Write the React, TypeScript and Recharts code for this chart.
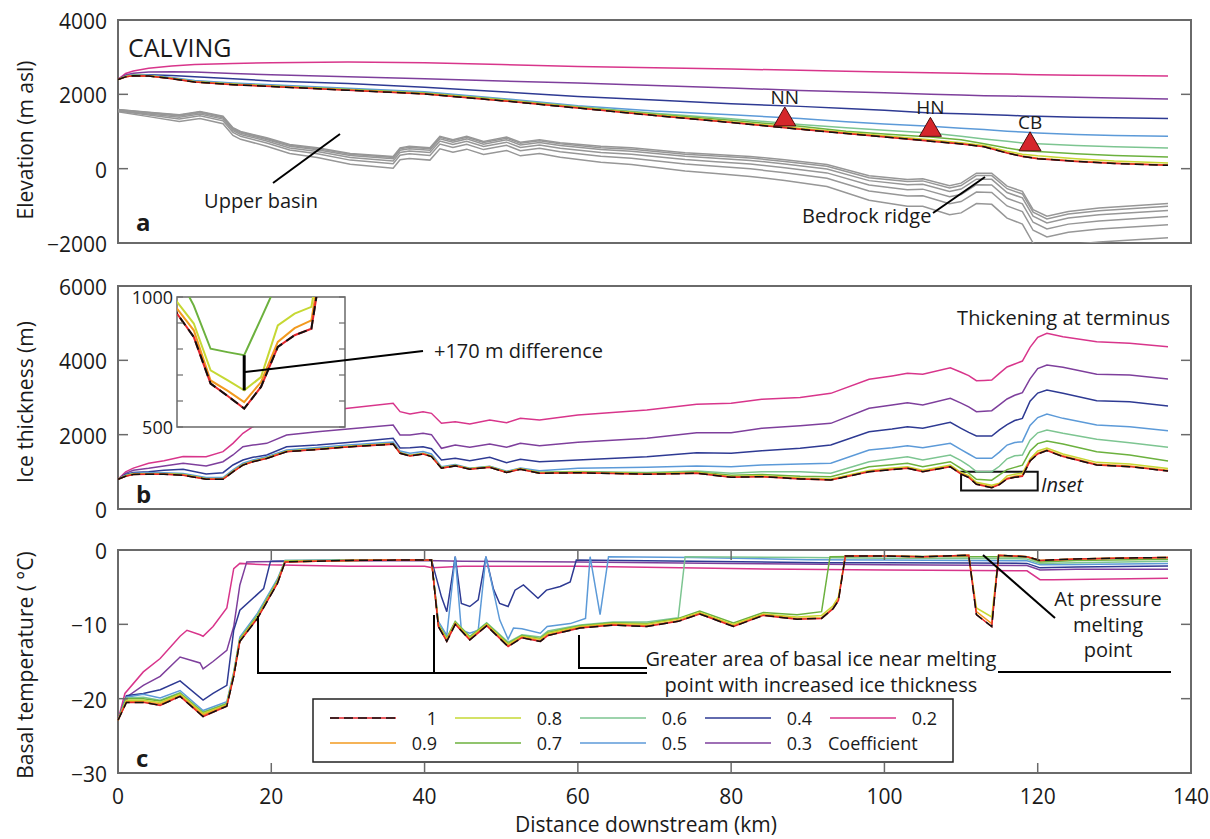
import React from 'react';
import {
  ComposedChart,
  Line,
  Scatter,
  XAxis,
  YAxis,
  ReferenceArea,
  ReferenceLine,
} from 'recharts';

const FONT = '"Open Sans", "DejaVu Sans", sans-serif';
const INK = '#1a1a1a';
const FRAME = '#6a6a6a';
const RED = '#e0242b';

// every panel shares the same local plot box
const W = 1210;
const PANEL_H = 260;
const PLOT = { left: 118, right: 1191, top: 20, bottom: 243 };
const Y_AXIS_W = 60;
const MARGIN = { top: 20, right: W - PLOT.right, left: PLOT.left - Y_AXIS_W, bottom: 17 };

const KM_TICKS = [0, 20, 40, 60, 80, 100, 120, 140];
const ELEV_TICKS = [-2000, 0, 2000, 4000];
const THICK_TICKS = [0, 2000, 4000, 6000];
const TEMP_TICKS = [-30, -20, -10, 0];
const INSET_KM_TICKS = [110, 112, 114, 116, 118, 120];
const INSET_THICK_TICKS = [500, 600, 700, 800, 900, 1000];

// coefficient runs, weakest first so that coefficient 1 ends on top
const COEFFS = ['0.2', '0.3', '0.4', '0.5', '0.6', '0.7', '0.8', '0.9', '1'];
const COLORS: Record<string, string> = {
  '0.2': '#d8358b',
  '0.3': '#7e3f9c',
  '0.4': '#2e3a93',
  '0.5': '#5c9ad8',
  '0.6': '#7dc591',
  '0.7': '#6cb13e',
  '0.8': '#c6d834',
  '0.9': '#f29a1f',
  '1': '#111111',
};

// ---- panel a: ice surface elevation (m asl)
const SURF_X = [0, 1, 2, 4, 7, 10, 15, 20, 30, 40, 50, 60, 70, 80, 89, 95, 100, 106, 110, 113, 116, 118, 120, 125, 130, 137];
const SURF_02 = [2400, 2560, 2630, 2700, 2760, 2800, 2830, 2850, 2870, 2850, 2800, 2750, 2715, 2682, 2645, 2620, 2600, 2580, 2565, 2555, 2545, 2535, 2530, 2515, 2505, 2494];
const SURF_03 = [2400, 2520, 2570, 2600, 2610, 2600, 2560, 2530, 2470, 2420, 2360, 2305, 2240, 2170, 2106, 2070, 2040, 2000, 1980, 1965, 1955, 1950, 1945, 1920, 1900, 1875];
const SURF_04 = [2400, 2480, 2520, 2530, 2510, 2470, 2420, 2360, 2290, 2190, 2070, 1945, 1850, 1748, 1676, 1620, 1570, 1500, 1480, 1460, 1440, 1420, 1407, 1385, 1370, 1353];
const SURF_05 = [2400, 2485, 2525, 2520, 2455, 2370, 2305, 2260, 2165, 2070, 1890, 1695, 1550, 1453, 1350, 1260, 1200, 1138, 1090, 1055, 1010, 985, 960, 920, 895, 869];
const SURF_06 = [2400, 2480, 2514, 2506, 2436, 2348, 2280, 2232, 2135, 2040, 1865, 1670, 1490, 1340, 1190, 1100, 1035, 960, 870, 800, 735, 690, 672, 620, 590, 557];
const SURF_07 = [2400, 2478, 2510, 2502, 2432, 2342, 2274, 2225, 2128, 2030, 1852, 1655, 1465, 1300, 1138, 1010, 935, 853, 780, 672, 557, 492, 465, 400, 355, 315];
const SURF_08 = [2400, 2476, 2507, 2498, 2428, 2338, 2270, 2220, 2122, 2025, 1845, 1645, 1450, 1265, 1090, 975, 885, 775, 700, 625, 470, 390, 345, 265, 205, 153];
const SURF_09 = [2400, 2473, 2503, 2494, 2424, 2334, 2265, 2215, 2116, 2016, 1836, 1637, 1438, 1248, 1070, 955, 865, 750, 675, 600, 432, 342, 282, 207, 150, 100];
const SURF_10 = [2400, 2470, 2500, 2490, 2420, 2330, 2260, 2210, 2110, 2010, 1830, 1630, 1430, 1240, 1060, 945, 855, 740, 665, 590, 420, 330, 270, 195, 140, 90];

// bed profiles under the flowline (m asl)
const BED_X = [0, 4, 8, 10.7, 13.7, 15, 16, 19.4, 22.4, 26, 30.3, 35.9, 36.8, 38, 40.7, 42, 43.7, 45.5, 47.7, 50.7, 52.5, 55, 57.7, 63, 67, 74, 78, 82.5, 87, 92.5, 98, 103, 105, 108.5, 110, 112, 114, 116, 118, 119.4, 121.2, 124, 128, 137];
const BED_1 = [1590, 1520, 1450, 1540, 1410, 1100, 1000, 830, 650, 560, 410, 330, 560, 600, 560, 870, 780, 870, 730, 850, 710, 780, 700, 600, 560, 430, 380, 330, 240, 110, -190, -290, -270, -460, -390, -120, -120, -470, -610, -1100, -1280, -1150, -1060, -940];
const BED_2 = [1585, 1510, 1436, 1525, 1394, 1084, 983, 812, 631, 539, 387, 304, 534, 574, 534, 843, 753, 842, 702, 821, 681, 750, 669, 566, 524, 391, 339, 287, 195, 63, -243, -348, -329, -522, -454, -186, -187, -539, -680, -1172, -1352, -1222, -1133, -1014];
const BED_3 = [1578, 1496, 1414, 1502, 1370, 1059, 958, 785, 602, 508, 352, 266, 496, 535, 494, 803, 712, 801, 660, 778, 637, 705, 622, 514, 470, 332, 278, 222, 128, -8, -322, -434, -418, -616, -550, -284, -288, -642, -786, -1280, -1460, -1330, -1242, -1124];
const BED_4 = [1567, 1474, 1382, 1468, 1334, 1022, 920, 745, 559, 461, 300, 208, 438, 477, 435, 743, 651, 739, 597, 713, 571, 638, 552, 437, 389, 244, 186, 125, 27, -114, -441, -564, -551, -756, -694, -432, -439, -797, -944, -1442, -1622, -1492, -1406, -1290];
const BED_5 = [1553, 1446, 1338, 1422, 1286, 973, 870, 690, 501, 399, 230, 132, 362, 398, 355, 662, 569, 656, 513, 627, 484, 548, 458, 333, 281, 126, 64, -5, -107, -256, -599, -736, -729, -944, -886, -628, -641, -1003, -1156, -1658, -1838, -1708, -1624, -1510];
const BED_6 = [1530, 1400, 1270, 1350, 1210, 895, 790, 605, 410, 300, 120, 10, 240, 275, 230, 535, 440, 525, 380, 490, 345, 405, 310, 170, 110, -60, -130, -210, -320, -480, -850, -1010, -1010, -1240, -1190, -940, -960, -1330, -1490, -2000, -2180, -2050, -1970, -1860];

const STATION_NAMES = ['NN', 'HN', 'CB'];
const STATION_KM = [87, 106, 119];
const STATION_ELEV = [1150, 870, 480];

// ---- panel b: ice thickness (m)
const THICK_X = [0, 1, 2, 4, 6, 8.5, 11.5, 13.7, 15, 16.3, 17.6, 19.4, 22, 26, 30, 35.9, 36.8, 38.1, 39.8, 40.9, 42.2, 44, 45.9, 48.5, 50.7, 52.5, 55, 60, 69, 75.5, 80, 84, 89, 93, 98, 101, 103, 105, 108.6, 110, 111, 112, 113, 114, 115, 116, 117, 118, 119, 120, 121.2, 123.3, 127.7, 132, 137];
const THICK_02 = [800, 1000, 1100, 1230, 1300, 1410, 1407, 1542, 1767, 2036, 2214, 2350, 2480, 2600, 2709, 2843, 2618, 2556, 2618, 2574, 2305, 2349, 2287, 2394, 2322, 2439, 2394, 2529, 2663, 2816, 2843, 2951, 3000, 3112, 3489, 3580, 3650, 3623, 3801, 3680, 3590, 3451, 3460, 3470, 3650, 3820, 3900, 3981, 4350, 4620, 4726, 4635, 4500, 4457, 4366];
const THICK_03 = [800, 960, 1040, 1094, 1160, 1229, 1157, 1273, 1453, 1676, 1720, 1767, 1991, 2080, 2150, 2260, 1991, 1991, 2036, 2000, 1633, 1722, 1660, 1748, 1660, 1767, 1703, 1794, 1902, 2053, 2053, 2170, 2240, 2305, 2709, 2800, 2860, 2798, 2978, 2850, 2750, 2618, 2630, 2645, 2800, 2960, 3060, 3130, 3500, 3780, 3874, 3812, 3623, 3605, 3497];
const THICK_04 = [800, 930, 985, 1004, 1040, 1068, 941, 977, 1184, 1318, 1390, 1453, 1676, 1720, 1790, 1902, 1640, 1650, 1676, 1620, 1318, 1363, 1300, 1390, 1246, 1340, 1273, 1318, 1407, 1515, 1498, 1569, 1633, 1722, 2080, 2150, 2214, 2170, 2332, 2170, 2060, 1964, 1964, 1964, 2130, 2270, 2380, 2439, 2900, 3120, 3201, 3112, 2913, 2887, 2771];
const THICK_05 = [800, 910, 965, 975, 978, 955, 845, 848, 1050, 1230, 1320, 1410, 1590, 1655, 1725, 1800, 1560, 1498, 1545, 1480, 1138, 1200, 1095, 1150, 1015, 1100, 1030, 1094, 1121, 1157, 1140, 1184, 1210, 1229, 1587, 1650, 1703, 1650, 1767, 1600, 1480, 1363, 1363, 1363, 1530, 1720, 1790, 1811, 2250, 2460, 2556, 2439, 2260, 2214, 2107];
const THICK_06 = [800, 900, 950, 955, 955, 930, 820, 820, 1020, 1200, 1290, 1380, 1560, 1620, 1690, 1765, 1520, 1445, 1500, 1430, 1115, 1180, 1090, 1140, 1000, 1090, 990, 1010, 980, 1020, 960, 1000, 1000, 960, 1273, 1350, 1407, 1318, 1453, 1300, 1170, 1004, 1004, 1004, 1150, 1350, 1430, 1453, 1850, 2050, 2125, 2036, 1875, 1784, 1660];
const THICK_07 = [800, 895, 945, 950, 950, 925, 815, 815, 1015, 1195, 1285, 1375, 1555, 1615, 1685, 1760, 1515, 1440, 1495, 1425, 1110, 1175, 1085, 1135, 995, 1085, 980, 998, 962, 995, 910, 930, 880, 869, 1138, 1190, 1229, 1138, 1273, 1090, 967, 801, 788, 776, 917, 1060, 1120, 1180, 1560, 1760, 1830, 1748, 1542, 1453, 1291];
const THICK_08 = [800, 890, 940, 945, 945, 920, 810, 810, 1010, 1190, 1280, 1370, 1550, 1610, 1680, 1755, 1510, 1435, 1490, 1420, 1105, 1170, 1080, 1130, 990, 1080, 972, 988, 950, 980, 875, 892, 835, 808, 1035, 1100, 1135, 1045, 1180, 981, 898, 718, 680, 641, 692, 891, 936, 962, 1350, 1560, 1640, 1480, 1255, 1210, 1090];
const THICK_09 = [800, 885, 935, 940, 940, 915, 805, 805, 1005, 1185, 1275, 1365, 1545, 1605, 1675, 1750, 1505, 1430, 1485, 1415, 1100, 1165, 1075, 1125, 985, 1075, 965, 980, 940, 968, 862, 878, 820, 790, 1012, 1072, 1108, 1018, 1150, 955, 872, 679, 640, 596, 673, 827, 880, 910, 1310, 1500, 1590, 1430, 1205, 1160, 1040];
const THICK_10 = [800, 880, 930, 935, 935, 910, 800, 800, 1000, 1180, 1270, 1360, 1540, 1600, 1670, 1745, 1500, 1425, 1480, 1410, 1095, 1160, 1070, 1120, 980, 1070, 960, 975, 935, 960, 855, 870, 810, 780, 1000, 1060, 1095, 1005, 1135, 936, 846, 667, 620, 571, 654, 808, 853, 878, 1290, 1480, 1570, 1410, 1185, 1140, 1020];

// ---- panel c: basal temperature, [km, °C]
const TEMP_02 = [[0, -22.9], [0.9, -19.3], [3.3, -16.4], [5.5, -14.6], [8.1, -11.6], [9, -10.8], [10.7, -11.4], [11.1, -11.6], [12.4, -10.3], [14.2, -7.8], [15.1, -2.5], [15.9, -1.8], [19.4, -2.0], [30, -2.2], [40, -2.2], [41, -2.4], [45, -2.2], [60, -2.2], [80, -2.5], [100, -2.7], [118.6, -2.8], [120.3, -4.0], [122, -4.0], [137, -3.8]];
const TEMP_03 = [[0, -22.9], [1.1, -19.8], [3.3, -18.2], [5.5, -17.0], [8.1, -14.4], [10.7, -15.2], [11.1, -16.0], [12.4, -15.0], [14.2, -13.5], [15.1, -10.3], [15.9, -4.7], [16.8, -1.6], [25, -1.5], [40, -1.4], [45, -1.5], [60, -1.6], [80, -1.8], [100, -2.0], [118.6, -2.1], [120.3, -2.7], [125, -2.6], [137, -2.6]];
const TEMP_04 = [[0, -22.9], [1.1, -19.6], [3.3, -19.3], [5.5, -18.8], [8.1, -17.6], [11.1, -20.2], [12.4, -19.3], [14.2, -18.2], [15.1, -10.8], [15.9, -8.1], [19, -5.2], [19.9, -1.5], [30, -1.35], [40.9, -1.3], [42.2, -6.3], [42.9, -8.3], [44, -0.9], [44.8, -7.2], [45.9, -7.6], [47, -6.7], [48, -0.9], [49, -5.3], [49.8, -7.2], [50.9, -7.6], [51.8, -5.4], [52.9, -4.7], [54.8, -6.5], [55.9, -5.4], [57.7, -4.9], [59, -4.3], [59.8, -1.35], [75, -1.5], [91.6, -1.7], [100, -1.7], [111, -1.75], [118.6, -1.8], [120.3, -2.4], [125, -2.3], [137, -2.15]];
const TEMP_05 = [[0, -22.9], [1.1, -19.8], [3.3, -19.4], [5.5, -19.9], [8.1, -18.9], [11.1, -21.6], [14.2, -20.4], [15.1, -16.4], [15.9, -11.7], [18.2, -8.5], [20.8, -3.9], [21.8, -1.4], [30, -1.35], [37, -1.3], [40.9, -1.3], [41.8, -9.6], [42.9, -11.5], [44, -0.9], [44.8, -10.8], [45.9, -11.2], [47, -10.8], [48, -0.9], [49, -5.6], [49.8, -9.4], [50.9, -12.0], [51.6, -10.5], [52.7, -10.6], [55.1, -11.2], [56, -10.3], [59, -9.9], [61, -9.2], [61.6, -0.9], [62.9, -8.7], [64, -0.9], [75, -1.0], [90, -1.3], [100, -1.35], [111, -1.4], [118.6, -1.45], [120.3, -2.0], [125, -1.95], [137, -1.8]];
const TEMP_06 = [[0, -22.9], [1.1, -19.9], [3.3, -19.8], [5.5, -20.2], [8.1, -19.2], [11.1, -21.8], [14.2, -20.6], [15.1, -16.6], [15.9, -11.9], [18.2, -8.7], [20.8, -4.1], [21.8, -1.4], [30, -1.35], [37, -1.3], [40.9, -1.3], [41.8, -9.9], [42.9, -11.8], [44, -9.6], [45.9, -11.6], [48.1, -9.8], [50.9, -12.4], [52.7, -11.4], [55.1, -11.7], [56.1, -10.9], [60.3, -10.1], [64.6, -9.7], [69, -9.7], [73.1, -9.1], [74, -0.9], [90, -1.0], [100, -1.1], [111, -1.15], [118.6, -1.2], [120.3, -1.8], [125, -1.7], [137, -1.5]];
const TEMP_07 = [[0, -22.9], [1.1, -20.0], [3.3, -20.0], [5.5, -20.3], [8.1, -19.3], [11.1, -21.9], [14.2, -20.7], [15.1, -16.7], [15.9, -12.0], [18.2, -8.9], [20.8, -4.2], [21.8, -1.5], [30, -1.4], [37, -1.3], [40.9, -1.3], [41.8, -10.0], [42.9, -11.9], [44, -9.7], [45.9, -11.7], [48.1, -9.9], [50.9, -12.6], [52.7, -11.5], [55.1, -11.9], [56.1, -11.1], [60.3, -10.2], [64.6, -9.8], [69, -9.9], [73.1, -9.2], [75.9, -8.2], [80.3, -9.8], [84.2, -8.4], [88.6, -8.7], [91.8, -8.3], [92.9, -0.9], [100, -0.85], [111, -0.9], [115, -0.9], [118.6, -0.95], [120.3, -1.6], [125, -1.4], [137, -1.25]];
const TEMP_08 = [[0, -22.9], [1.1, -20.2], [3.3, -20.2], [5.5, -20.5], [8.1, -19.4], [11.1, -22.0], [14.2, -20.8], [15.1, -16.8], [15.9, -12.1], [18.2, -9.0], [20.8, -4.3], [21.8, -1.5], [30, -1.4], [37, -1.3], [40.9, -1.3], [41.8, -10.1], [42.9, -12.0], [44, -9.8], [45.9, -11.8], [48.1, -10.0], [50.9, -12.7], [52.7, -11.6], [55.1, -12.0], [56.1, -11.2], [60.3, -10.3], [64.6, -9.9], [69, -10.0], [73.1, -9.3], [75.9, -8.4], [80.3, -10.0], [84.2, -8.6], [88.6, -9.0], [91.8, -8.8], [93.3, -7.5], [94, -6.3], [94.9, -0.8], [100, -0.8], [105, -0.9], [108, -0.8], [111, -0.7], [112, -7.8], [114, -9.0], [114.9, -0.7], [118.6, -0.9], [120.3, -1.4], [125, -1.2], [130, -1.1], [137, -1.0]];
const TEMP_09 = [[0, -22.9], [1.1, -20.4], [3.3, -20.4], [5.5, -20.7], [8.1, -19.6], [11.1, -22.2], [14.2, -20.9], [15.1, -16.9], [15.9, -12.2], [18.2, -9.1], [20.8, -4.4], [21.8, -1.6], [30, -1.4], [37, -1.35], [40.9, -1.35], [41.8, -10.2], [42.9, -12.2], [44, -9.9], [45.9, -12.0], [48.1, -10.1], [50.9, -12.9], [52.7, -11.7], [55.1, -12.2], [56.1, -11.4], [60.3, -10.4], [64.6, -10.0], [69, -10.2], [73.1, -9.5], [75.9, -8.5], [80.3, -10.2], [84.2, -8.7], [88.6, -9.2], [91.8, -9.1], [93.3, -7.8], [94, -6.6], [94.9, -0.8], [100, -0.8], [105, -0.9], [108, -0.8], [111, -0.7], [112, -8.3], [114, -9.9], [114.9, -0.7], [118.6, -0.9], [120.3, -1.4], [125, -1.2], [130, -1.1], [137, -1.0]];
const TEMP_10 = [[0, -22.9], [1.1, -20.5], [3.3, -20.5], [5.5, -20.9], [8.1, -19.7], [11.1, -22.4], [14.2, -21.0], [15.1, -17.0], [15.9, -12.3], [18.2, -9.2], [20.8, -4.5], [21.8, -1.6], [30, -1.4], [37, -1.35], [40.9, -1.35], [41.8, -10.3], [42.9, -12.3], [44, -10.0], [45.9, -12.1], [48.1, -10.2], [50.9, -13.0], [52.7, -11.8], [55.1, -12.3], [56.1, -11.5], [60.3, -10.5], [64.6, -10.1], [69, -10.3], [73.1, -9.6], [75.9, -8.6], [80.3, -10.3], [84.2, -8.8], [88.6, -9.3], [91.8, -9.2], [93.3, -7.9], [94, -6.8], [94.9, -0.8], [100, -0.8], [105, -0.9], [108, -0.8], [111, -0.7], [112, -8.7], [114, -10.3], [114.9, -0.7], [118.6, -0.9], [120.3, -1.4], [125, -1.2], [130, -1.1], [137, -1.0]];

const LEGEND_ROW_1 = ['1', '0.8', '0.6', '0.4', '0.2'];
const LEGEND_ROW_2 = ['0.9', '0.7', '0.5', '0.3'];

type Pt = { x: number; y: number };
const pts = (xs: number[], ys: number[]): Pt[] => xs.map((x, i) => ({ x, y: ys[i] }));
const pairs = (p: number[][]): Pt[] => p.map(([x, y]) => ({ x, y }));

const SURFACE: Record<string, Pt[]> = {
  '0.2': pts(SURF_X, SURF_02), '0.3': pts(SURF_X, SURF_03), '0.4': pts(SURF_X, SURF_04),
  '0.5': pts(SURF_X, SURF_05), '0.6': pts(SURF_X, SURF_06), '0.7': pts(SURF_X, SURF_07),
  '0.8': pts(SURF_X, SURF_08), '0.9': pts(SURF_X, SURF_09), '1': pts(SURF_X, SURF_10),
};
const THICKNESS: Record<string, Pt[]> = {
  '0.2': pts(THICK_X, THICK_02), '0.3': pts(THICK_X, THICK_03), '0.4': pts(THICK_X, THICK_04),
  '0.5': pts(THICK_X, THICK_05), '0.6': pts(THICK_X, THICK_06), '0.7': pts(THICK_X, THICK_07),
  '0.8': pts(THICK_X, THICK_08), '0.9': pts(THICK_X, THICK_09), '1': pts(THICK_X, THICK_10),
};
const TEMPERATURE: Record<string, Pt[]> = {
  '0.2': pairs(TEMP_02), '0.3': pairs(TEMP_03), '0.4': pairs(TEMP_04),
  '0.5': pairs(TEMP_05), '0.6': pairs(TEMP_06), '0.7': pairs(TEMP_07),
  '0.8': pairs(TEMP_08), '0.9': pairs(TEMP_09), '1': pairs(TEMP_10),
};
const BEDS = [BED_1, BED_2, BED_3, BED_4, BED_5, BED_6].map((b) => pts(BED_X, b));
const STATIONS = STATION_NAMES.map((name, i) => ({ name, x: STATION_KM[i], y: STATION_ELEV[i] }));

const fmt = (v: number) => (v < 0 ? `\u2212${Math.abs(v)}` : `${v}`);

function coeffLines(prefix: string, series: Record<string, Pt[]>, width = 1.5) {
  const out = COEFFS.map((c) => (
    <Line
      key={`${prefix}-${c}`}
      data={series[c]}
      dataKey="y"
      type="linear"
      stroke={c === '1' ? RED : COLORS[c]}
      strokeWidth={width}
      dot={false}
      activeDot={false}
      isAnimationActive={false}
    />
  ));
  // coefficient 1 is black dashes laid over the red run
  out.push(
    <Line
      key={`${prefix}-1-dash`}
      data={series['1']}
      dataKey="y"
      type="linear"
      stroke="#111"
      strokeDasharray="9 5"
      strokeWidth={width}
      dot={false}
      activeDot={false}
      isAnimationActive={false}
    />
  );
  return out;
}

// inward tick marks on top and bottom, labels only on the last panel
function KmTick({ payload, labels }: any) {
  const x = payload.coordinate;
  return (
    <g>
      <line x1={x} x2={x} y1={PLOT.top} y2={PLOT.top + 10} stroke={FRAME} strokeWidth={1.5} />
      <line x1={x} x2={x} y1={PLOT.bottom} y2={PLOT.bottom - 10} stroke={FRAME} strokeWidth={1.5} />
      {labels && (
        <text x={x} y={PLOT.bottom + 23} textAnchor="middle" dominantBaseline="central" fontFamily={FONT} fontSize={21} fill={INK}>
          {payload.value}
        </text>
      )}
    </g>
  );
}

function ValueTick({ payload }: any) {
  const y = payload.coordinate;
  return (
    <g>
      <line x1={PLOT.left} x2={PLOT.left + 10} y1={y} y2={y} stroke={FRAME} strokeWidth={1.5} />
      <line x1={PLOT.right} x2={PLOT.right - 10} y1={y} y2={y} stroke={FRAME} strokeWidth={1.5} />
      <text x={PLOT.left - 11} y={y + 1} textAnchor="end" dominantBaseline="central" fontFamily={FONT} fontSize={21} fill={INK}>
        {fmt(payload.value)}
      </text>
    </g>
  );
}

// inset geometry (local to its own chart)
const INSET = { left: 57, right: 225, top: 17, bottom: 147 };

function InsetKmTick({ payload }: any) {
  const x = payload.coordinate;
  const v = payload.value;
  const anchor = v === 110 ? 'start' : v === 120 ? 'end' : null;
  return (
    <g>
      <line x1={x} x2={x} y1={INSET.top} y2={INSET.top + 6} stroke={FRAME} strokeWidth={1.2} />
      <line x1={x} x2={x} y1={INSET.bottom} y2={INSET.bottom - 6} stroke={FRAME} strokeWidth={1.2} />
      {anchor && (
        <text x={x + (v === 110 ? -4 : 2)} y={INSET.bottom + 15} textAnchor={anchor} dominantBaseline="central" fontFamily={FONT} fontSize={18} fill={INK}>
          {v}
        </text>
      )}
    </g>
  );
}

function InsetValueTick({ payload }: any) {
  const y = payload.coordinate;
  const v = payload.value;
  return (
    <g>
      <line x1={INSET.left} x2={INSET.left + 6} y1={y} y2={y} stroke={FRAME} strokeWidth={1.2} />
      <line x1={INSET.right} x2={INSET.right - 6} y1={y} y2={y} stroke={FRAME} strokeWidth={1.2} />
      {(v === 500 || v === 1000) && (
        <text x={INSET.left - 4} y={y} textAnchor="end" dominantBaseline="central" fontFamily={FONT} fontSize={18} fill={INK}>
          {v}
        </text>
      )}
    </g>
  );
}

function StationMark(props: any) {
  const { cx, cy, payload } = props;
  return (
    <g>
      <path d={`M${cx - 11},${cy} L${cx + 11},${cy} L${cx},${cy - 19} Z`} fill="#d5262b" stroke="#4a0d0d" strokeWidth={1} />
      <text x={cx} y={cy - 29} textAnchor="middle" dominantBaseline="central" fontFamily={FONT} fontSize={19} fill={INK}>
        {payload.name}
      </text>
    </g>
  );
}

function kmAxis(labels: boolean) {
  return (
    <XAxis
      type="number"
      dataKey="x"
      domain={[0, 140]}
      ticks={KM_TICKS}
      interval={0}
      height={labels ? 40 : 0}
      axisLine={false}
      tickLine={false}
      tick={(p: any) => <KmTick {...p} labels={labels} />}
    />
  );
}

function valueAxis(domain: [number, number], ticks: number[]) {
  return (
    <YAxis
      type="number"
      domain={domain}
      ticks={ticks}
      interval={0}
      width={Y_AXIS_W}
      allowDataOverflow
      axisLine={false}
      tickLine={false}
      tick={(p: any) => <ValueTick {...p} />}
    />
  );
}

const at = (xs: number[], ys: number[], x: number) => ys[xs.indexOf(x)];

export default function App() {
  const barLow = at(THICK_X, THICK_08, 114);
  const barHigh = at(THICK_X, THICK_07, 114);

  return (
    <div style={{ position: 'absolute', left: 0, top: 0, width: W, height: 839, background: '#fff', fontFamily: FONT }}>
      {/* a: surface and bed elevation */}
      <div style={{ position: 'absolute', left: 0, top: 0 }}>
        <ComposedChart width={W} height={PANEL_H} margin={MARGIN}>
          {kmAxis(false)}
          {valueAxis([-2000, 4000], ELEV_TICKS)}
          {BEDS.map((b, i) => (
            <Line key={`bed-${i}`} data={b} dataKey="y" type="linear" stroke="#979797" strokeWidth={1.5} dot={false} activeDot={false} isAnimationActive={false} />
          ))}
          {coeffLines('surf', SURFACE)}
          <Scatter data={STATIONS} dataKey="y" shape={<StationMark />} isAnimationActive={false} />
          <ReferenceArea x1={0} x2={140} y1={-2000} y2={4000} fill="none" stroke={FRAME} strokeWidth={2} />
        </ComposedChart>
      </div>

      {/* b: ice thickness */}
      <div style={{ position: 'absolute', left: 0, top: 266 }}>
        <ComposedChart width={W} height={PANEL_H} margin={MARGIN}>
          {kmAxis(false)}
          {valueAxis([0, 6000], THICK_TICKS)}
          {coeffLines('thick', THICKNESS)}
          <ReferenceArea x1={110} x2={120} y1={500} y2={1000} fill="none" stroke="#111" strokeWidth={2} />
          <ReferenceArea x1={0} x2={140} y1={0} y2={6000} fill="none" stroke={FRAME} strokeWidth={2} />
        </ComposedChart>
      </div>

      {/* c: basal temperature */}
      <div style={{ position: 'absolute', left: 0, top: 530 }}>
        <ComposedChart width={W} height={300} margin={MARGIN}>
          {kmAxis(true)}
          {valueAxis([-30, 0], TEMP_TICKS)}
          {coeffLines('temp', TEMPERATURE)}
          <ReferenceArea x1={0} x2={140} y1={-30} y2={0} fill="none" stroke={FRAME} strokeWidth={2} />
        </ComposedChart>
      </div>

      {/* inset: thickness minimum near the terminus */}
      <div style={{ position: 'absolute', left: 177, top: 297, width: 168, height: 130, background: '#fff' }} />
      <div style={{ position: 'absolute', left: 120, top: 280 }}>
        <ComposedChart width={340} height={180} margin={{ top: 17, right: 115, left: 17, bottom: 33 }}>
          <XAxis
            type="number"
            dataKey="x"
            domain={[110, 120]}
            ticks={INSET_KM_TICKS}
            interval={0}
            height={0}
            allowDataOverflow
            axisLine={false}
            tickLine={false}
            tick={(p: any) => <InsetKmTick {...p} />}
          />
          <YAxis
            type="number"
            domain={[500, 1000]}
            ticks={INSET_THICK_TICKS}
            interval={0}
            width={40}
            allowDataOverflow
            axisLine={false}
            tickLine={false}
            tick={(p: any) => <InsetValueTick {...p} />}
          />
          {coeffLines('inset', THICKNESS, 2)}
          <ReferenceLine segment={[{ x: 114, y: barLow }, { x: 114, y: barHigh }]} stroke="#000" strokeWidth={3} />
          <ReferenceArea x1={110} x2={120} y1={500} y2={1000} fill="none" stroke={FRAME} strokeWidth={1.5} />
        </ComposedChart>
      </div>

      {/* titles, notes and legend */}
      <svg width={W} height={839} style={{ position: 'absolute', left: 0, top: 0, pointerEvents: 'none' }} fontFamily={FONT} fill={INK}>
        <g fontSize={21}>
          <text transform="rotate(-90)" x={-140} y={25} textAnchor="middle" dominantBaseline="central">Elevation (m asl)</text>
          <text transform="rotate(-90)" x={-402} y={25} textAnchor="middle" dominantBaseline="central">Ice thickness (m)</text>
          <text transform="rotate(-90)" x={-665} y={25} textAnchor="middle" dominantBaseline="central">Basal temperature ( °C)</text>
          <text x={646} y={824} textAnchor="middle" dominantBaseline="central">Distance downstream (km)</text>
        </g>

        <g fontSize={24} fontWeight="bold">
          <text x={136} y={221} dominantBaseline="central">a</text>
          <text x={136} y={493} dominantBaseline="central">b</text>
          <text x={136} y={757} dominantBaseline="central">c</text>
        </g>

        <text x={128} y={47} fontSize={25} dominantBaseline="central">CALVING</text>

        <g fontSize={20}>
          <text x={261} y={200} textAnchor="middle" dominantBaseline="central">Upper basin</text>
          <text x={802} y={215} dominantBaseline="central">Bedrock ridge</text>
          <text x={434} y={350} dominantBaseline="central">+170 m difference</text>
          <text x={1170} y={317} textAnchor="end" dominantBaseline="central">Thickening at terminus</text>
          <text x={1041} y={484} dominantBaseline="central" fontStyle="italic">Inset</text>
          <text x={821} y={658} textAnchor="middle" dominantBaseline="central">Greater area of basal ice near melting</text>
          <text x={821} y={684} textAnchor="middle" dominantBaseline="central">point with increased ice thickness</text>
          <text x={1108} y={598} textAnchor="middle" dominantBaseline="central">At pressure</text>
          <text x={1108} y={624} textAnchor="middle" dominantBaseline="central">melting</text>
          <text x={1108} y={649} textAnchor="middle" dominantBaseline="central">point</text>
        </g>

        <g stroke="#000" strokeWidth={2} fill="none">
          <line x1={273} y1={183} x2={340} y2={134} />
          <line x1={933} y1={213} x2={985} y2={177} />
          <line x1={245} y1={372} x2={423} y2={351} />
          <line x1={983} y1={555} x2={1055} y2={618} />
          <polyline points="258,616 258,673 647,673" />
          <line x1={434} y1={615} x2={434} y2={673} />
          <polyline points="579,635 579,668 647,668" />
          <line x1={998} y1={672} x2={1171} y2={672} />
        </g>

        <rect x={313} y={699} width={640} height={63} fill="#fff" stroke="#222" strokeWidth={1.5} />
        {[LEGEND_ROW_1, LEGEND_ROW_2].map((row, r) =>
          row.map((c, i) => {
            const y = r === 0 ? 718 : 743;
            const x0 = 330 + i * 125;
            return (
              <g key={`lg-${c}`}>
                <line x1={x0} x2={x0 + 66} y1={y} y2={y} stroke={c === '1' ? RED : COLORS[c]} strokeWidth={1.6} />
                {c === '1' && <line x1={x0} x2={x0 + 66} y1={y} y2={y} stroke="#111" strokeWidth={1.6} strokeDasharray="9 5" />}
                <text x={x0 + 107} y={y} textAnchor="end" dominantBaseline="central" fontSize={18}>{c}</text>
              </g>
            );
          })
        )}
        <text x={828} y={743} dominantBaseline="central" fontSize={18}>Coefficient</text>
      </svg>
    </div>
  );
}
